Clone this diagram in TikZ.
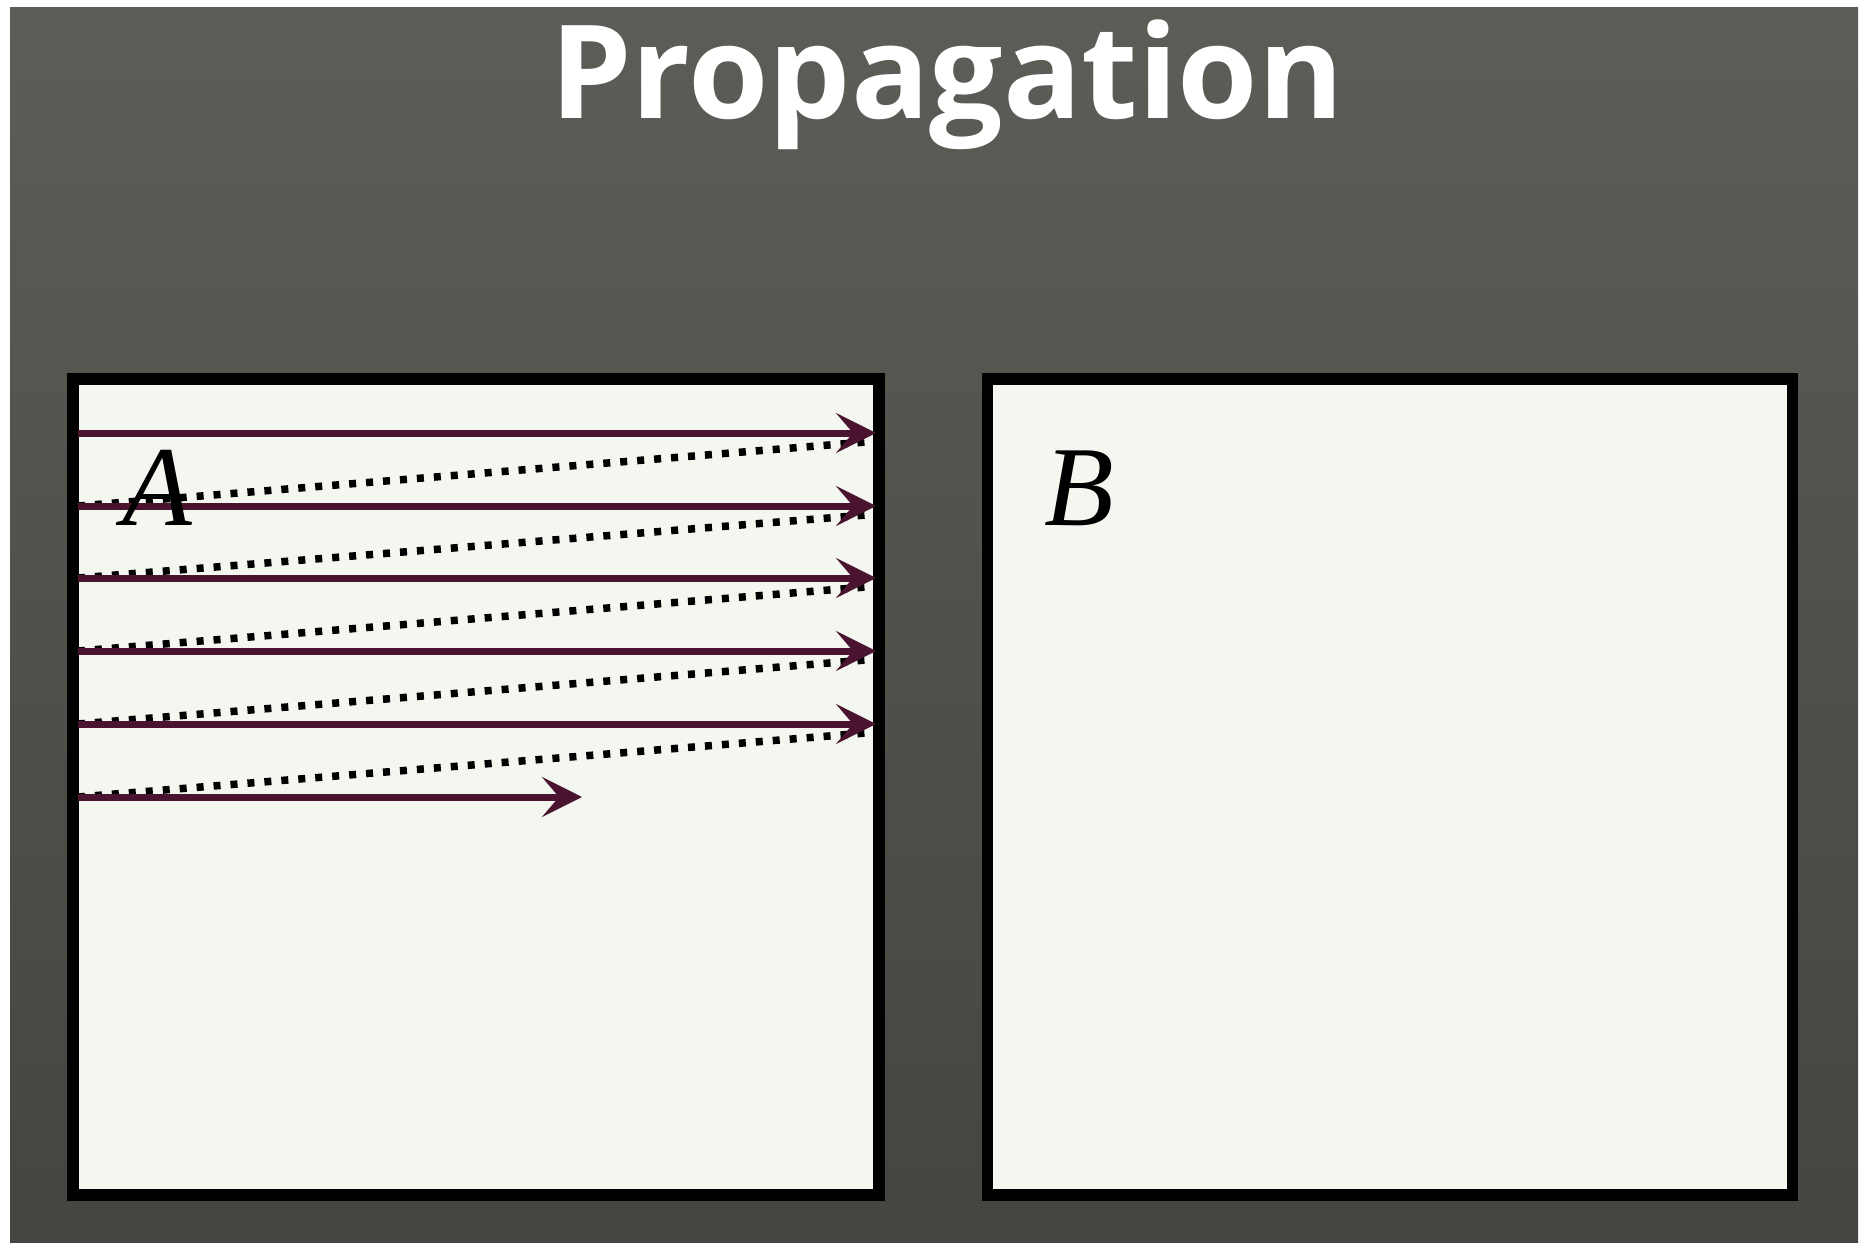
\documentclass[tikz,border=0pt]{standalone}
\usepackage{fontspec}
\setmainfont{Liberation Serif}
\newfontfamily\titlefont{Open Sans}
\usepackage{tikz}
\usetikzlibrary{arrows.meta,positioning}
\definecolor{slidegray}{RGB}{92,93,87}
\definecolor{slidedark}{RGB}{68,69,64}
\definecolor{paper}{RGB}{243,247,240}
\definecolor{wine}{RGB}{74,20,48}

\begin{document}
\begin{tikzpicture}[x=1pt, y=-1pt, panel/.style={draw=black, line width=11.5pt, fill=paper, inner sep=0pt, minimum width=806pt, minimum height=816pt}, ray/.style={-{Stealth[length=40pt, width=40pt, inset=17pt]}, line width=7pt, wine}, echo/.style={line width=7.5pt, black, dash pattern=on 7pt off 10pt}, letter/.style={font=\fontsize{114}{114}\selectfont\itshape, inner sep=0pt, anchor=base west}]
\useasboundingbox (0,0) rectangle (1862,1246);
\fill[white] (0,0) rectangle (1862,1246);
\shade[top color=slidegray, bottom color=slidedark] (10,8) rectangle (1858,1242);
\node[font=\titlefont\bfseries\fontsize{130}{130}\selectfont, text=white, inner sep=0pt, anchor=base] (title) at (947,119) {Propagation};
\node[panel] (pa) at (476,787) {};
\node[panel, minimum width=805pt] (pb) at (1390,787) {};
% start and end points of the rays in panel A
\coordinate (s1) at (78,433); \coordinate (t1) at (876,433);
\coordinate (s2) at (78,506); \coordinate (t2) at (876,506);
\coordinate (s3) at (78,578); \coordinate (t3) at (876,578);
\coordinate (s4) at (78,651); \coordinate (t4) at (876,651);
\coordinate (s5) at (78,724); \coordinate (t5) at (876,724);
\coordinate (s6) at (78,797); \coordinate (t6) at (582,797);
\coordinate (d1) at (866,442); \coordinate (d2) at (866,515); \coordinate (d3) at (866,587); \coordinate (d4) at (866,660); \coordinate (d5) at (866,733);
\draw[echo](s2)--(d1); \draw[echo](s3)--(d2); \draw[echo](s4)--(d3); \draw[echo](s5)--(d4); \draw[echo](s6)--(d5);
\draw[ray](s1)--(t1); \draw[ray](s2)--(t2); \draw[ray](s3)--(t3); \draw[ray](s4)--(t4); \draw[ray](s5)--(t5); \draw[ray](s6)--(t6);
\node[letter] (la) at (122,525) {A};
\node[letter] (lb) at (1044,525) {B};
\end{tikzpicture}
\end{document}
